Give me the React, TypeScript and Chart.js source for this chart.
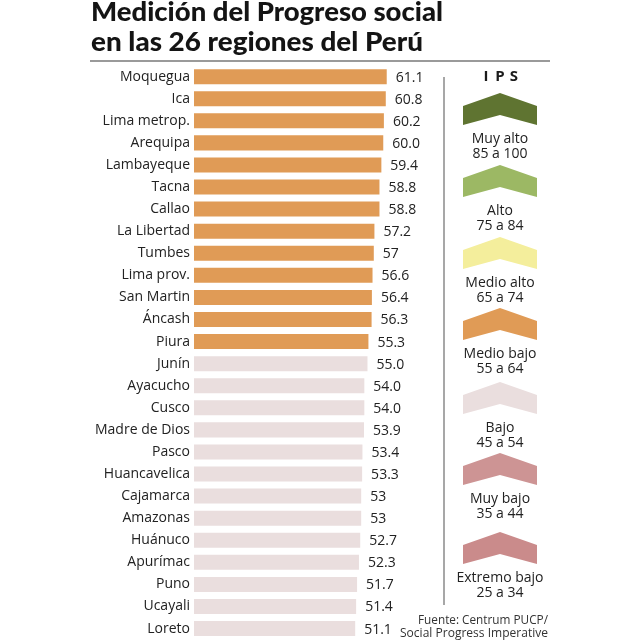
import React, { useEffect, useRef } from "react";
import { Chart, registerables } from "chart.js";

Chart.register(...registerables);

const titulo = ["Medición del Progreso social", "en las 26 regiones del Perú"];

const regiones = [
  "Moquegua", "Ica", "Lima metrop.", "Arequipa", "Lambayeque", "Tacna", "Callao",
  "La Libertad", "Tumbes", "Lima prov.", "San Martin", "Áncash", "Piura", "Junín",
  "Ayacucho", "Cusco", "Madre de Dios", "Pasco", "Huancavelica", "Cajamarca",
  "Amazonas", "Huánuco", "Apurímac", "Puno", "Ucayali", "Loreto",
];

const valores = [
  61.1, 60.8, 60.2, 60.0, 59.4, 58.8, 58.8, 57.2, 57, 56.6, 56.4, 56.3, 55.3, 55.0,
  54.0, 54.0, 53.9, 53.4, 53.3, 53, 53, 52.7, 52.3, 51.7, 51.4, 51.1,
];

const etiquetasValor = [
  "61.1", "60.8", "60.2", "60.0", "59.4", "58.8", "58.8", "57.2", "57", "56.6", "56.4",
  "56.3", "55.3", "55.0", "54.0", "54.0", "53.9", "53.4", "53.3", "53", "53", "52.7",
  "52.3", "51.7", "51.4", "51.1",
];

const nivelRegion = [
  "Medio bajo", "Medio bajo", "Medio bajo", "Medio bajo", "Medio bajo", "Medio bajo",
  "Medio bajo", "Medio bajo", "Medio bajo", "Medio bajo", "Medio bajo", "Medio bajo",
  "Medio bajo", "Bajo", "Bajo", "Bajo", "Bajo", "Bajo", "Bajo", "Bajo", "Bajo", "Bajo",
  "Bajo", "Bajo", "Bajo", "Bajo",
];

const leyendaTitulo = "IPS";
const nivelesNombre = ["Muy alto", "Alto", "Medio alto", "Medio bajo", "Bajo", "Muy bajo", "Extremo bajo"];
const nivelesRango = ["85 a 100", "75 a 84", "65 a 74", "55 a 64", "45 a 54", "35 a 44", "25 a 34"];
const nivelesColor = ["#5f7431", "#9cb864", "#f4ee9c", "#e09b56", "#eadede", "#cd9494", "#ca8b8b"];

const fuente = ["Fuente: Centrum PUCP/", "Social Progress Imperative"];

const SANS = '"Open Sans", "Noto Sans", sans-serif';

function fitText(ctx: CanvasRenderingContext2D, text: string, x: number, y: number, width: number, font: string, align: "left" | "right" | "center" = "left") {
  ctx.font = font;
  const w = ctx.measureText(text).width;
  const sx = width / w;
  let left = x;
  if (align === "right") left = x - width;
  if (align === "center") left = x - width / 2;
  ctx.save();
  ctx.translate(left, y);
  ctx.scale(sx, 1);
  ctx.textAlign = "left";
  ctx.fillText(text, 0, 0);
  ctx.restore();
}

const decorPlugin = {
  id: "decor",
  afterDatasetsDraw(chart: any) {
    const ctx: CanvasRenderingContext2D = chart.ctx;
    const meta = chart.getDatasetMeta(0);
    ctx.save();
    ctx.fillStyle = "#222";
    ctx.font = `14px ${SANS}`;
    ctx.textAlign = "left";
    ctx.textBaseline = "middle";
    meta.data.forEach((bar: any, i: number) => {
      ctx.fillText(etiquetasValor[i], bar.x + 9, bar.y + 1);
    });
    ctx.restore();
  },
  afterDraw(chart: any) {
    const ctx: CanvasRenderingContext2D = chart.ctx;
    ctx.save();
    // Title
    ctx.fillStyle = "#141414";
    ctx.textBaseline = "alphabetic";
    const tf = `900 27px Lato, ${SANS}`;
    fitText(ctx, titulo[0], 91, 21, 352, tf);
    fitText(ctx, titulo[1], 91, 51, 332, tf);

    // Rule under title
    ctx.strokeStyle = "#9a9a9a";
    ctx.lineWidth = 2;
    ctx.beginPath();
    ctx.moveTo(90, 61);
    ctx.lineTo(550, 61);
    ctx.stroke();

    // Vertical separator
    ctx.strokeStyle = "#8a8a8a";
    ctx.lineWidth = 1.5;
    ctx.beginPath();
    ctx.moveTo(444, 77);
    ctx.lineTo(444, 605);
    ctx.stroke();

    // Legend title
    ctx.fillStyle = "#1b1b1b";
    ctx.font = `bold 15px ${SANS}`;
    ctx.textAlign = "center";
    ctx.textBaseline = "middle";
    const chars = leyendaTitulo.split("");
    chars.forEach((c, i) => {
      ctx.fillText(c, 500 + (i - (chars.length - 1) / 2) * 14, 77);
    });

    // Legend chevrons
    const peaks = [93, 165, 237, 308, 382, 453, 532];
    const cx = 500;
    const hw = 37;
    nivelesNombre.forEach((nombre, i) => {
      const p = peaks[i];
      ctx.fillStyle = nivelesColor[i];
      ctx.beginPath();
      ctx.moveTo(cx - hw, p + 13);
      ctx.lineTo(cx, p);
      ctx.lineTo(cx + hw, p + 13);
      ctx.lineTo(cx + hw, p + 32);
      ctx.lineTo(cx, p + 22);
      ctx.lineTo(cx - hw, p + 32);
      ctx.closePath();
      ctx.fill();
      ctx.fillStyle = "#222";
      ctx.font = `14px ${SANS}`;
      ctx.textAlign = "center";
      ctx.textBaseline = "middle";
      ctx.fillText(nombre, cx, p + 46);
      ctx.fillText(nivelesRango[i], cx, p + 61);
    });

    // Source
    ctx.fillStyle = "#333";
    ctx.textBaseline = "middle";
    fitText(ctx, fuente[0], 548, 620, 130, `13px ${SANS}`, "right");
    fitText(ctx, fuente[1], 548, 633, 148, `13px ${SANS}`, "right");
    ctx.restore();
  },
};

export default function App() {
  const ref = useRef<HTMLCanvasElement | null>(null);

  useEffect(() => {
    if (!ref.current) return;
    const colores = nivelRegion.map((n) => nivelesColor[nivelesNombre.indexOf(n)]);
    const chart = new Chart(ref.current, {
      type: "bar",
      data: {
        labels: regiones,
        datasets: [
          {
            data: valores,
            backgroundColor: colores,
            borderWidth: 0,
            categoryPercentage: 1,
            barPercentage: 0.68,
          },
        ],
      },
      options: {
        indexAxis: "y",
        responsive: false,
        animation: false,
        devicePixelRatio: 1,
        layout: { padding: { left: 0, right: 225.2, top: 65.6, bottom: 20.4 } },
        plugins: {
          legend: { display: false },
          tooltip: { enabled: false },
          title: { display: false },
        },
        scales: {
          x: {
            display: false,
            min: 0,
            max: 70,
          },
          y: {
            grid: { display: false, drawTicks: false },
            border: { display: false },
            ticks: {
              color: "#222",
              font: { family: SANS, size: 14 },
              padding: 4,
              autoSkip: false,
            },
            afterFit: (scale: any) => {
              scale.width = 194;
            },
          },
        },
      },
      plugins: [decorPlugin],
    });
    return () => chart.destroy();
  }, []);

  return (
    <div style={{ position: "fixed", left: 0, top: 0, width: 640, height: 640, overflow: "hidden", background: "#fff" }}>
      <canvas ref={ref} width={640} height={660} style={{ width: 640, height: 660, display: "block" }} />
    </div>
  );
}
